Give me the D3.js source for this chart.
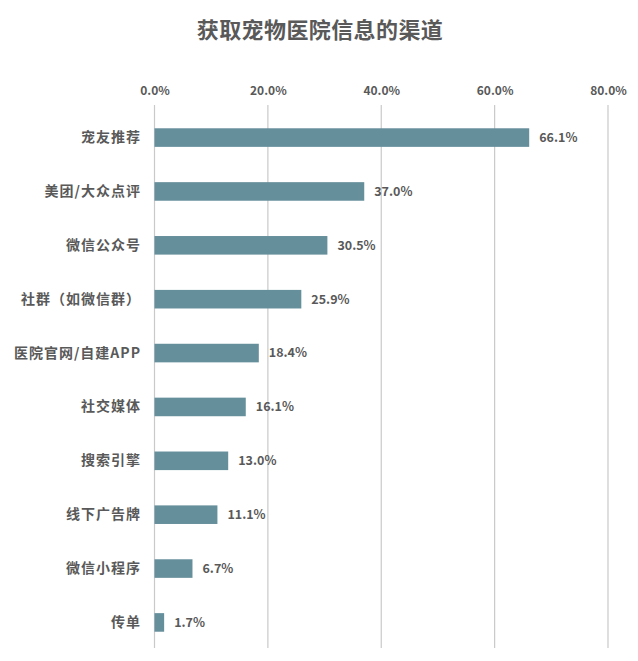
<!DOCTYPE html>
<html><head><meta charset="utf-8">
<script src="https://cdn.jsdelivr.net/npm/d3@7"></script>
<style>body{margin:0;background:#fff}</style>
</head><body><svg id="c" width="638" height="661"></svg>
<script>
const categories = ["宠友推荐","美团/大众点评","微信公众号","社群（如微信群）","医院官网/自建APP","社交媒体","搜索引擎","线下广告牌","微信小程序","传单"];
const values = [66.1,37.0,30.5,25.9,18.4,16.1,13.0,11.1,6.7,1.7];
const tickValues = [0,20,40,60,80];
const title = "获取宠物医院信息的渠道";

const svg = d3.select("#c");
const font = "'Noto Sans CJK SC','Noto Sans',sans-serif";
const x = d3.scaleLinear().domain([0,80]).range([154.5,608]);
const y = d3.scaleBand().domain(categories).range([110.5,649.5]).paddingInner(0.655).paddingOuter(0.33);

svg.append("text").attr("x",320).attr("y",38).attr("text-anchor","middle")
  .attr("font-family",font).attr("font-size",22).attr("letter-spacing",0.4).attr("font-weight","bold").attr("fill","#595959").text(title);

const ax = svg.append("g").attr("transform","translate(0,105)")
  .call(d3.axisTop(x).tickValues(tickValues).tickFormat(d=>d.toFixed(1)+"%").tickSize(0).tickPadding(10));
ax.select(".domain").remove();
ax.selectAll("text").attr("font-family",font).attr("font-size",12).attr("font-weight","bold").attr("fill","#595959");

svg.append("g").selectAll("line").data(tickValues).join("line")
  .attr("x1",d=>x(d)).attr("x2",d=>x(d)).attr("y1",105).attr("y2",648)
  .attr("stroke","#c9c9c9").attr("stroke-width",1.2);

svg.append("g").selectAll("rect").data(values).join("rect")
  .attr("x",x(0)).attr("y",(d,i)=>y(categories[i]))
  .attr("width",d=>x(d)-x(0)).attr("height",y.bandwidth())
  .attr("fill","#668f9c");

svg.append("g").selectAll("text").data(values).join("text")
  .attr("x",d=>x(d)+10).attr("y",(d,i)=>y(categories[i])+y.bandwidth()/2).attr("dy","0.35em")
  .attr("font-family",font).attr("font-size",12.5).attr("font-weight","bold").attr("fill","#595959")
  .text(d=>d.toFixed(1)+"%");

const ay = svg.append("g").attr("transform","translate(141,0)")
  .call(d3.axisLeft(y).tickSize(0).tickPadding(0));
ay.select(".domain").remove();
ay.selectAll("text").attr("font-family",font).attr("font-size",14).attr("letter-spacing",1).attr("font-weight","bold").attr("fill","#595959");
</script></body></html>
